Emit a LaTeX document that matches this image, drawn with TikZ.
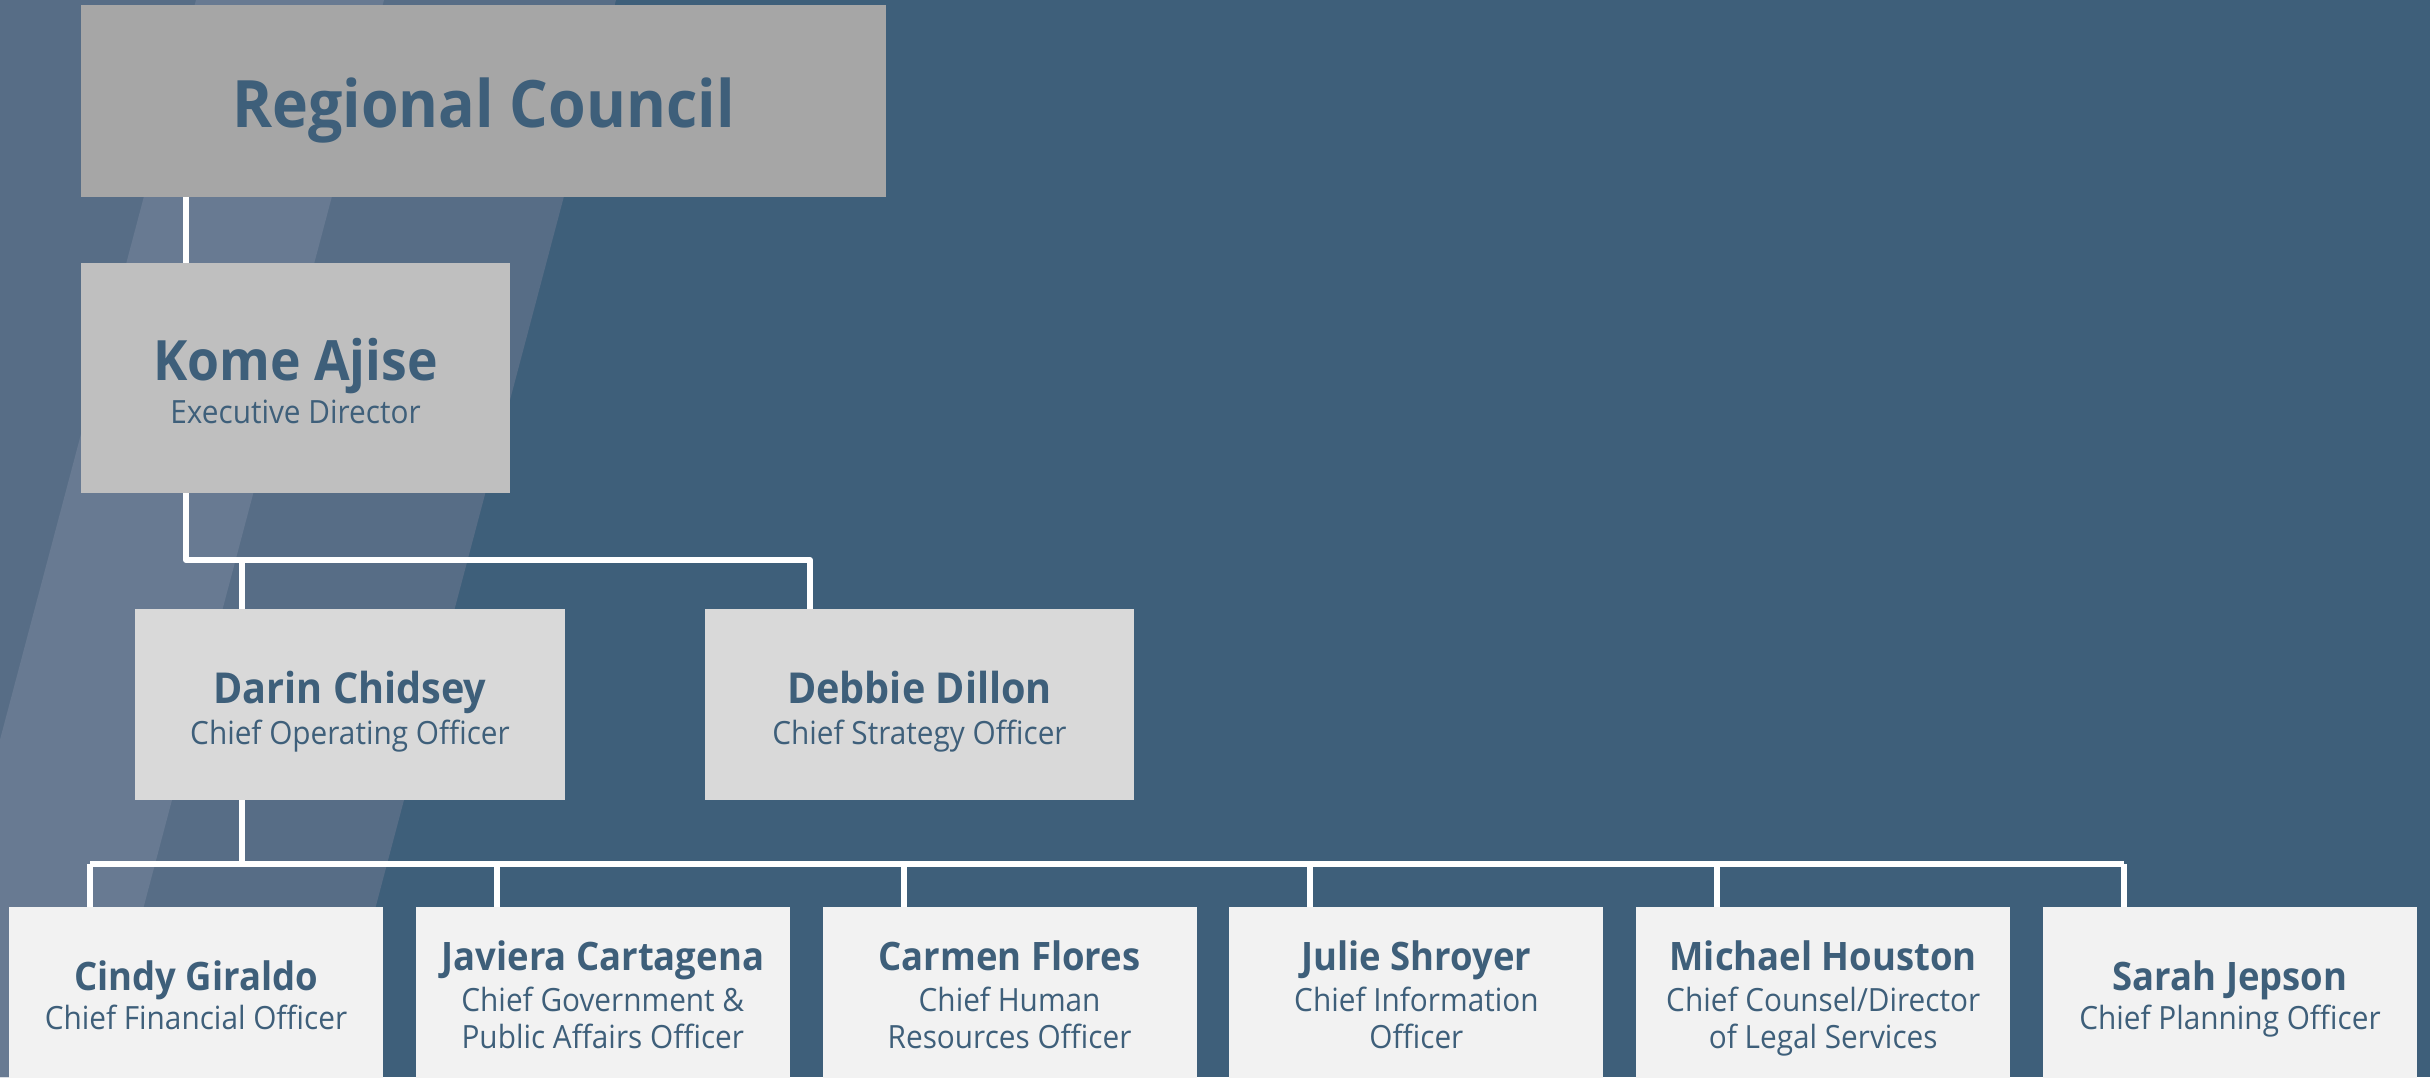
\documentclass[tikz,border=0pt]{standalone}
\usepackage{fontspec}
\setmainfont{Open Sans}[FakeStretch=0.93]
\definecolor{bg}{HTML}{3E5F7A}
\definecolor{bandmid}{HTML}{576D86}
\definecolor{bandlight}{HTML}{687A92}
\definecolor{ink}{HTML}{3E5F7A}
\definecolor{fillA}{HTML}{A6A6A6}
\definecolor{fillB}{HTML}{BFBFBF}
\definecolor{fillC}{HTML}{D9D9D9}
\definecolor{fillD}{HTML}{F2F2F2}
\tikzset{
  box/.style={rectangle, draw=none, inner sep=0pt, outer sep=0pt},
  conn/.style={draw=white, line width=3pt, line join=round},
  txt/.style={anchor=base, inner sep=0pt, text=ink},
  bigname/.style={txt, font=\fontsize{32.7}{40}\selectfont\bfseries},
  topname/.style={txt, font=\fontsize{27.8}{32}\selectfont\bfseries},
  midname/.style={txt, font=\fontsize{21.3}{24}\selectfont\bfseries},
  lowname/.style={txt, font=\fontsize{19.6}{23}\selectfont\bfseries},
  role/.style={txt, font=\fontsize{16}{19}\selectfont},
}
\begin{document}
\begin{tikzpicture}[x=0.5pt,y=-0.5pt]
\useasboundingbox (0,0) rectangle (2430,1077);
\clip (0,0) rectangle (2430,1077);
\fill[bg] (0,0) rectangle (2430,1077);
% translucent bands
\fill[bandmid] (-300,0) -- (616,0) -- (330.6,1077) -- (-300,1077) -- cycle;
\fill[bandlight] (196,0) -- (384,0) -- (98.6,1077) -- (-89.4,1077) -- cycle;

% boxes
\node[box, fill=fillA, minimum width=805*0.5pt, minimum height=192*0.5pt] (rc) at (483.5,101) {};
\node[box, fill=fillB, minimum width=429*0.5pt, minimum height=230*0.5pt] (kome) at (295.5,378) {};
\node[box, fill=fillC, minimum width=430*0.5pt, minimum height=191*0.5pt] (darin) at (350,704.5) {};
\node[box, fill=fillC, minimum width=429*0.5pt, minimum height=191*0.5pt] (debbie) at (919.5,704.5) {};
\foreach \i/\cx in {1/196,2/602.8,3/1009.6,4/1416.4,5/1823.2,6/2230}{
  \node[box, fill=fillD, minimum width=374*0.5pt, minimum height=186*0.5pt] (b\i) at (\cx,1000) {};
  \coordinate (bus\i) at (\cx-106,864);
}

% texts
\node[bigname] (rct) at ([yshift=-13pt]rc.center) {Regional Council};
\node[topname] (komen) at ([yshift=-1pt]kome.center) {Kome Ajise};
\node[role] (komer) at ([yshift=-22.5pt]kome.center) {Executive Director};
\node[midname] (darinn) at ([yshift=0.75pt]darin.center) {Darin Chidsey};
\node[role] (darinr) at ([yshift=-19.75pt]darin.center) {Chief Operating Officer};
\node[midname] (debbien) at ([yshift=0.75pt]debbie.center) {Debbie Dillon};
\node[role] (debbier) at ([yshift=-19.75pt]debbie.center) {Chief Strategy Officer};

\node[lowname] (n1) at ([yshift=5pt]b1.center) {Cindy Giraldo};
\node[role] (r1) at ([yshift=-14.5pt]b1.center) {Chief Financial Officer};
\node[lowname] (n2) at ([yshift=15pt]b2.center) {Javiera Cartagena};
\node[role] (r2a) at ([yshift=-5.5pt]b2.center) {Chief Government \&};
\node[role] (r2b) at ([yshift=-24pt]b2.center) {Public Affairs Officer};
\node[lowname] (n3) at ([yshift=15pt]b3.center) {Carmen Flores};
\node[role] (r3a) at ([yshift=-5.5pt]b3.center) {Chief Human};
\node[role] (r3b) at ([yshift=-24pt]b3.center) {Resources Officer};
\node[lowname] (n4) at ([yshift=15pt]b4.center) {Julie Shroyer};
\node[role] (r4a) at ([yshift=-5.5pt]b4.center) {Chief Information};
\node[role] (r4b) at ([yshift=-24pt]b4.center) {Officer};
\node[lowname] (n5) at ([yshift=15pt]b5.center) {Michael Houston};
\node[role] (r5a) at ([yshift=-5.5pt]b5.center) {Chief Counsel/Director};
\node[role] (r5b) at ([yshift=-24pt]b5.center) {of Legal Services};
\node[lowname] (n6) at ([yshift=5pt]b6.center) {Sarah Jepson};
\node[role] (r6) at ([yshift=-14.5pt]b6.center) {Chief Planning Officer};

% connectors
\coordinate (jk) at (186,560);
\coordinate (jda) at (242,560);
\coordinate (jde) at (810,560);
\coordinate (jb) at (242,864);
\draw[conn] (rc.south -| jk) -- (kome.north -| jk);
\draw[conn] (kome.south -| jk) -- (jk) -- (jde) -- (debbie.north -| jde);
\draw[conn] (jda) -- (darin.north -| jda);
\draw[conn] (darin.south -| jb) -- (jb);
\draw[conn] (bus1) -- (bus6);
\foreach \i in {1,...,6}{
  \draw[conn] (bus\i) -- (b\i.north -| bus\i);
}
\end{tikzpicture}
\end{document}
